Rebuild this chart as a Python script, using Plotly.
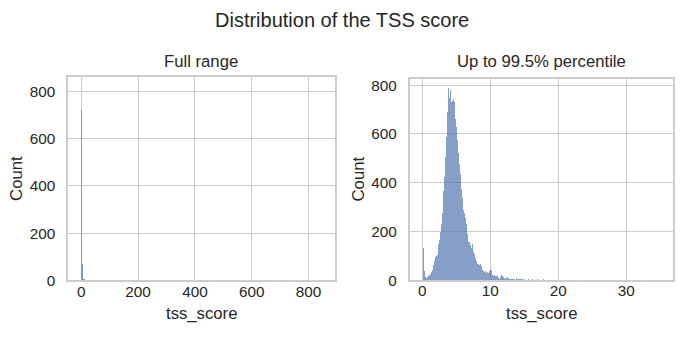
import plotly.graph_objects as go

# Histogram of tss_score up to the 99.5% percentile (bin width 0.15, first edge at 0)
bin_width = 0.15
tss_counts = [
    133, 40, 14, 12, 13, 18, 22, 28, 36, 45,
    62, 80, 96, 100, 106, 150, 165, 198, 231, 278,
    368, 424, 506, 587, 692, 789, 750, 780, 732, 736,
    745, 733, 663, 630, 577, 524, 477, 437, 377, 338,
    288, 278, 258, 231, 191, 158, 145, 132, 151, 118,
    108, 92, 78, 69, 68, 65, 68, 58, 45, 38,
    36, 38, 32, 36, 32, 38, 42, 41, 23, 19,
    21, 20, 19, 19, 12, 8, 15, 21, 18, 15,
    12, 6, 15, 12, 10, 7, 7, 5, 6, 8,
    8, 4, 9, 7, 7, 6, 5, 5, 4, 5,
    3, 3, 3, 7, 3, 3, 2, 7, 2, 2,
    3, 2, 7, 2, 1, 2, 1, 2, 6, 1,
    1, 0, 2, 1, 1, 0, 1, 2, 0, 1,
    1, 0, 1, 0, 2, 1, 0, 1, 0, 1,
    0, 1, 1, 0, 0, 1, 0, 1, 0, 0,
    1, 0, 0, 1, 0, 1, 0, 0, 1, 0,
    0, 1, 0, 0, 0, 1, 0, 0, 1, 0,
    0, 0, 1, 0, 0, 0, 1, 0, 0, 0,
    1, 0, 0, 0, 0, 1, 0, 0, 0, 1,
    0, 0, 0, 1, 0, 0, 0, 0, 1, 0,
    0, 0, 0, 0, 1, 0, 0, 0, 0, 0,
    1, 0, 0, 0, 0, 0, 1, 0, 0, 0,
    0, 0, 0, 1,
]

# Histogram over the full range of tss_score (coarse bins starting at 0)
full_bin_width = 3.5
full_counts = [720, 71, 6, 2, 1]

full_ticks = [0, 200, 400, 600, 800]
zoom_ticks = [0, 10, 20, 30]
count_ticks = [0, 200, 400, 600, 800]

W, H = 684, 345
FONT = "Liberation Sans, Arial, sans-serif"
TEXT = "#262626"
GRID = "#cccccc"


def px(x):
    return x / W


def py(y):
    return 1 - y / H


# axes boxes in pixels: left, right, top, bottom
box1 = (68.3, 334.5, 77.3, 286.7)
box2 = (409.7, 673.0, 79.0, 286.5)

fig = go.Figure()

fig.add_trace(go.Bar(
    x=[(i + 0.5) * full_bin_width for i in range(len(full_counts))],
    y=full_counts,
    width=full_bin_width,
    marker=dict(color="rgb(125,152,198)", line=dict(width=0)),
    xaxis="x", yaxis="y", showlegend=False,
))

fig.add_trace(go.Bar(
    x=[(i + 0.5) * bin_width for i in range(len(tss_counts))],
    y=tss_counts,
    width=bin_width,
    marker=dict(color="rgba(76,114,176,0.68)", line=dict(width=0)),
    xaxis="x2", yaxis="y2", showlegend=False,
))

axis_common = dict(
    showgrid=True, gridcolor=GRID, gridwidth=1.4,
    showline=True, mirror=True, linecolor=GRID, linewidth=1.7,
    zeroline=False, ticks="outside", tickcolor="rgba(0,0,0,0)",
    tickfont=dict(family=FONT, size=15.3, color=TEXT),
    fixedrange=True,
)
x_ticks = dict(ticklen=1, ticklabelstandoff=-5)
y_ticks = dict(ticklen=8)

fig.update_layout(
    width=W, height=H, autosize=False,
    margin=dict(l=0, r=0, t=0, b=0, pad=0),
    paper_bgcolor="white", plot_bgcolor="white",
    bargap=0,
    xaxis=dict(domain=[px(box1[0]), px(box1[1])], range=[-45.8, 891.5],
               tickvals=full_ticks, anchor="y", **x_ticks, **axis_common),
    yaxis=dict(domain=[py(box1[3]), py(box1[2])], range=[0, 861.7],
               tickvals=count_ticks, anchor="x", **y_ticks, **axis_common),
    xaxis2=dict(domain=[px(box2[0]), px(box2[1])], range=[-1.85, 36.87],
                tickvals=zoom_ticks, anchor="y2", **x_ticks, **axis_common),
    yaxis2=dict(domain=[py(box2[3]), py(box2[2])], range=[0, 826.7],
                tickvals=count_ticks, anchor="x2", **y_ticks, **axis_common),
)

annotations = [
    ("Distribution of the TSS score", W / 2, 18.2, 20, 0),
    ("Full range", (box1[0] + box1[1]) / 2, 60.8, 16.7, 0),
    ("Up to 99.5% percentile", (box2[0] + box2[1]) / 2, 60.8, 16.7, 0),
    ("Count", 17.2, (box1[2] + box1[3]) / 2, 16.7, -90),
    ("Count", 358, (box2[2] + box2[3]) / 2, 16.7, -90),
    ("tss_score", (box1[0] + box1[1]) / 2, 320.5, 16.7, 0),
    ("tss_score", (box2[0] + box2[1]) / 2, 320.5, 16.7, 0),
]
for text, x, y, size, angle in annotations:
    fig.add_annotation(
        text=text, x=px(x), y=py(y), xref="paper", yref="paper",
        xanchor="center", yanchor="middle", showarrow=False,
        textangle=angle, font=dict(family=FONT, size=size, color=TEXT),
    )

fig.write_html("out.html", config={"responsive": False})
